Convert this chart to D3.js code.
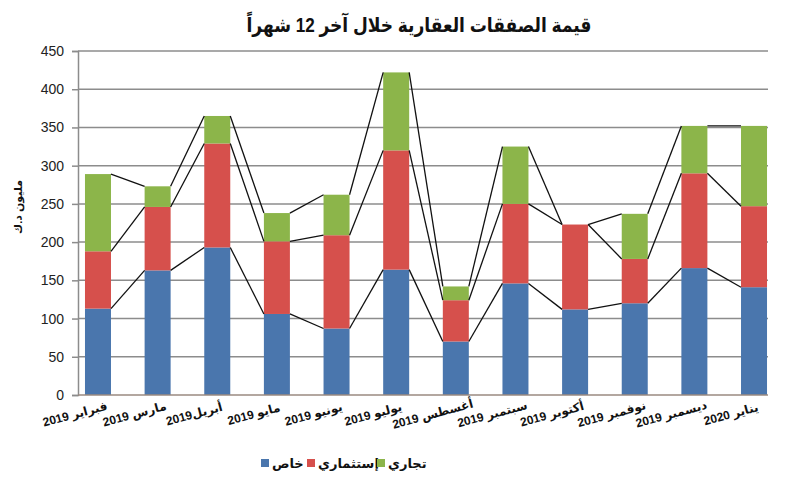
<!DOCTYPE html>
<html>
<head>
<meta charset="utf-8">
<script src="https://cdn.jsdelivr.net/npm/d3@7"></script>
<style>
  body { margin: 0; background: #fff; }
  text { font-family: "Liberation Sans", "DejaVu Sans", sans-serif; }
</style>
</head>
<body>
<svg id="chart" width="791" height="486"></svg>
<script>
const months = ["فبراير 2019", "مارس 2019", "أبريل2019", "مايو 2019", "يونيو 2019", "يوليو 2019",
                "أغسطس 2019", "سبتمبر 2019", "أكتوبر 2019", "نوفمبر 2019", "ديسمبر 2019", "يناير 2020"];
const khas     = [113, 163, 193, 106, 87, 164, 70, 146, 112, 120, 166, 141];
const istithmari = [75, 83, 136, 95, 122, 156, 54, 104, 111, 58, 124, 106];
const tijari   = [101, 27, 36, 37, 53, 102, 18, 75, 0, 59, 62, 105];
const seriesNames = ["خاص", "إستثماري", "تجاري"];
const yTicks = [0, 50, 100, 150, 200, 250, 300, 350, 400, 450];

const svg = d3.select("#chart");
const plotLeft = 78, plotRight = 774, plotTop = 51, plotBottom = 395;

const keys = ["khas", "istithmari", "tijari"];
const color = d3.scaleOrdinal().domain(keys).range(["#4a76ad", "#d6504c", "#8cb54a"]);

const rows = months.map((m, i) => ({month: m, khas: khas[i], istithmari: istithmari[i], tijari: tijari[i]}));
const stacked = d3.stack().keys(keys)(rows);

const x = d3.scaleBand().domain(months).range([plotLeft, plotRight]).paddingInner(0.564).paddingOuter(0.117);
const y = d3.scaleLinear().domain([0, 450]).range([plotBottom, plotTop]);

// gridlines
svg.append("g").selectAll("line").data(yTicks.filter(d => d > 0)).join("line")
    .attr("x1", plotLeft).attr("x2", 768)
    .attr("y1", d => y(d)).attr("y2", d => y(d))
    .attr("stroke", "#8c8c8c").attr("stroke-width", 1.5);

// y axis
const yAxis = svg.append("g").attr("transform", `translate(${plotLeft},0)`)
    .call(d3.axisLeft(y).tickValues(yTicks).tickSize(6).tickPadding(8));
yAxis.select(".domain").attr("stroke", "#8c8c8c").attr("stroke-width", 1.5);
yAxis.selectAll(".tick line").attr("stroke", "#8c8c8c").attr("stroke-width", 1.5);
yAxis.selectAll(".tick text").attr("font-size", 14).attr("fill", "#222")
    .style("font-family", "'Liberation Sans', sans-serif");

// bars
svg.append("g").selectAll("g").data(stacked).join("g")
    .attr("fill", d => color(d.key))
    .selectAll("rect").data(d => d).join("rect")
    .attr("x", d => x(d.data.month))
    .attr("width", x.bandwidth())
    .attr("y", d => y(d[1]))
    .attr("height", d => y(d[0]) - y(d[1]));

// series lines
const segs = [];
stacked.forEach(s => {
  for (let i = 0; i < s.length - 1; i++) {
    segs.push({x1: x(months[i]) + x.bandwidth(), y1: y(s[i][1]), x2: x(months[i + 1]), y2: y(s[i + 1][1])});
  }
});
svg.append("g").selectAll("line").data(segs).join("line")
    .attr("x1", d => d.x1).attr("y1", d => d.y1)
    .attr("x2", d => d.x2).attr("y2", d => d.y2)
    .attr("stroke", "#111").attr("stroke-width", 1.3);

// x axis line
svg.append("line").attr("x1", plotLeft).attr("x2", 768).attr("y1", plotBottom).attr("y2", plotBottom)
    .attr("stroke", "#9a8a80").attr("stroke-width", 1.5);

// x labels
svg.append("g").selectAll("text").data(months).join("text")
    .attr("transform", d => `translate(${x(d) + x.bandwidth() / 2 - 22},${418}) rotate(-15)`)
    .attr("text-anchor", "middle")
    .attr("direction", "rtl")
    .attr("font-size", 12).attr("font-weight", "bold").attr("fill", "#111")
    .text(d => d);

// title
svg.append("text").attr("x", 419).attr("y", 32)
    .attr("text-anchor", "middle").attr("direction", "rtl")
    .attr("font-size", 20).attr("font-weight", "bold").attr("fill", "#111")
    .attr("textLength", 345).attr("lengthAdjust", "spacingAndGlyphs")
    .text("قيمة الصفقات العقارية خلال آخر 12 شهراً");

// y title
svg.append("text").attr("transform", "translate(22,207) rotate(-90)")
    .attr("text-anchor", "middle").attr("direction", "rtl")
    .attr("font-size", 11).attr("font-weight", "bold").attr("fill", "#111")
    .text("مليون د.ك");

// legend
const legendX = [261, 307, 377];
const legend = svg.append("g").selectAll("g").data(keys).join("g")
    .attr("transform", (d, i) => `translate(${legendX[i]},463)`);
legend.append("rect").attr("x", 0).attr("y", -4).attr("width", 8).attr("height", 8)
    .attr("fill", d => color(d));
legend.append("text").attr("x", 11).attr("y", 5)
    .attr("font-size", 13).attr("font-weight", "bold").attr("fill", "#111")
    .text((d, i) => seriesNames[i]);
</script>
</body>
</html>
